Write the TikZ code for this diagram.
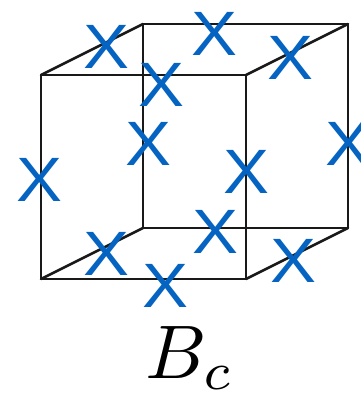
\documentclass[tikz,border=0pt]{standalone}
\usepackage{fontspec}
\newfontfamily\xfont{Liberation Sans}
\definecolor{xblue}{HTML}{0563C1}
\newcommand{\xglyph}{\scalebox{1.1}[1]{X}}
\tikzset{
  edge/.style={draw=black!90,line width=2pt,line cap=round,line join=round},
  xmark/.style={inner sep=0pt,text=xblue,anchor=center,font=\xfont\fontsize{47}{47}\selectfont}
}
\begin{document}
\begin{tikzpicture}[x=0.75pt,y=-0.75pt]
\useasboundingbox (0,0) rectangle (361,394);
\coordinate (f1) at (41,75);
\coordinate (f2) at (246,75);
\coordinate (f3) at (246,279);
\coordinate (f4) at (41,279);
\coordinate (b1) at (143,24);
\coordinate (b2) at (348,24);
\coordinate (b3) at (348,228);
\coordinate (b4) at (143,228);
\draw[edge] (b1) -- (b2) -- (b3) -- (b4) -- cycle;
\draw[edge] (f1) -- (f2) -- (f3) -- (f4) -- cycle;
\draw[edge] (f1) -- (b1);
\draw[edge] (f2) -- (b2);
\draw[edge] (f3) -- (b3);
\draw[edge] (f4) -- (b4);
\node[xmark] (x1) at (106,46.5) {\xglyph};
\node[xmark] (x2) at (214,33.5) {\xglyph};
\node[xmark] (x3) at (290,58) {\xglyph};
\node[xmark] (x4) at (161,85) {\xglyph};
\node[xmark] (x5) at (148,143.5) {\xglyph};
\node[xmark] (x6) at (246,172) {\xglyph};
\node[xmark] (x7) at (348,143.5) {\xglyph};
\node[xmark] (x8) at (39,179.5) {\xglyph};
\node[xmark] (x9) at (106,254) {\xglyph};
\node[xmark] (x10) at (215,232) {\xglyph};
\node[xmark] (x11) at (293,261) {\xglyph};
\node[xmark] (x12) at (165,286) {\xglyph};
\node[inner sep=0pt,anchor=base west,scale=5.7] (lab) at (144,378) {$B_c$};
\end{tikzpicture}
\end{document}
